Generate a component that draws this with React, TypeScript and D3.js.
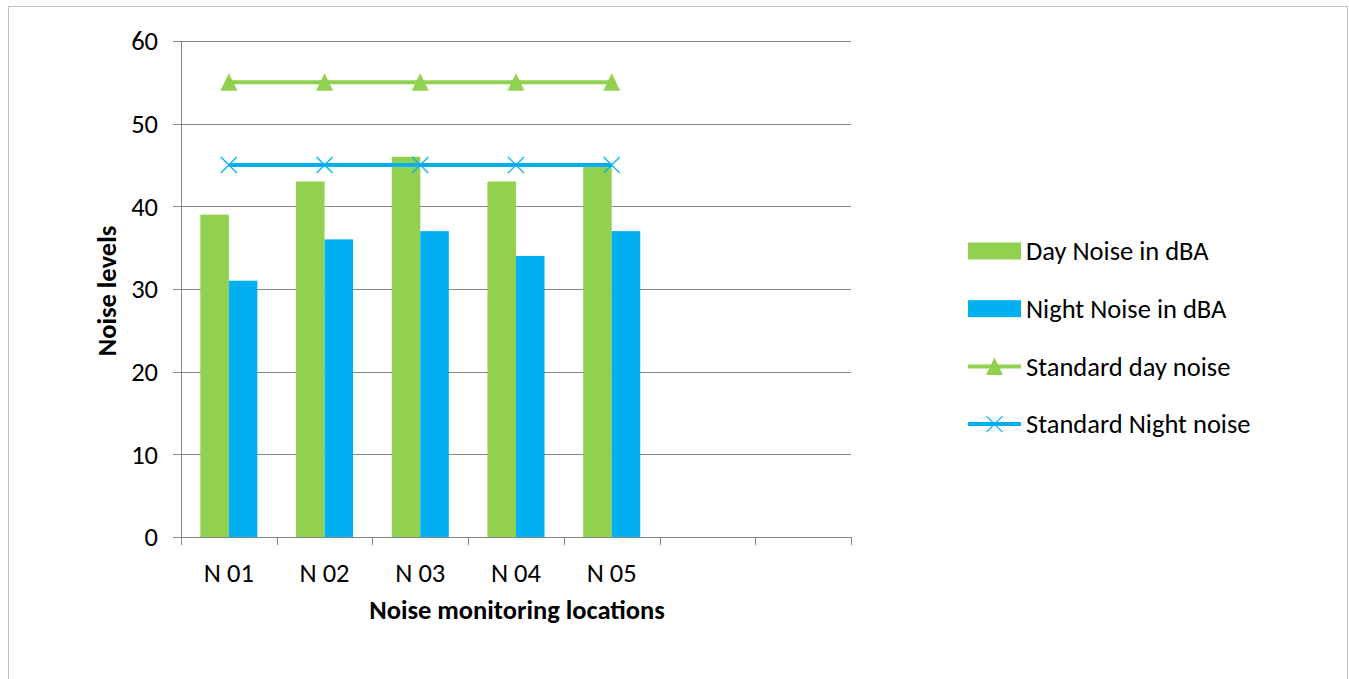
import React from "react";
import * as d3 from "d3";

const categories = ["N 01", "N 02", "N 03", "N 04", "N 05", "", " "];
const dayNoise = [39, 43, 46, 43, 45];
const nightNoise = [31, 36, 37, 34, 37];
const standardDay = [55, 55, 55, 55, 55];
const standardNight = [45, 45, 45, 45, 45];
const yTicks = [0, 10, 20, 30, 40, 50, 60];
const legendLabels = ["Day Noise in dBA", "Night Noise in dBA", "Standard day noise", "Standard Night noise"];

const GREEN = "#92D050";
const BLUE = "#00B0F0";
const AXIS = "#868686";
const FONT = "Carlito, Calibri, 'Open Sans', sans-serif";
const FS = 26.5;

export default function App() {
  const W = 1349, H = 679;
  const left = 181, right = 851, top = 41, bottom = 537;
  const x = d3.scaleBand<string>().domain(categories).range([left, right]).paddingInner(0).paddingOuter(0);
  const y = d3.scaleLinear().domain([0, 60]).range([bottom, top]);
  const bw = x.bandwidth();
  const barW = bw * 0.298;
  const cx = (i: number) => (x(categories[i]) as number) + bw / 2;
  const lineGen = d3.line<number>().x((_, i) => cx(i)).y((d) => y(d));
  const boundaries = categories.map((c) => x(c) as number).concat([right]);

  const tri = (px: number, py: number) =>
    `M${px},${py - 9} L${px + 8.5},${py + 8.5} L${px - 8.5},${py + 8.5} Z`;
  const cross = (px: number, py: number, s = 8) =>
    `M${px - s},${py - s} L${px + s},${py + s} M${px - s},${py + s} L${px + s},${py - s}`;

  const legX = 968, legW = 53, legY0 = 251, legStep = 57.7;

  return (
    <svg width={W} height={H} style={{ position: "absolute", left: 0, top: 0, fontFamily: FONT }}>
      <rect x={0} y={0} width={W} height={H} fill="#fff" />
      <rect x={8.5} y={6.5} width={1339} height={700} fill="#fff" stroke="#BFBFBF" strokeWidth={1} />
      {yTicks.map((t) => (
        <g key={t}>
          <line x1={left} x2={right} y1={Math.round(y(t)) + 0.5} y2={Math.round(y(t)) + 0.5} stroke={AXIS} strokeWidth={1} />
          <line x1={173} x2={left} y1={Math.round(y(t)) + 0.5} y2={Math.round(y(t)) + 0.5} stroke={AXIS} strokeWidth={1} />
          <text x={158} y={y(t)} dy="0.35em" textAnchor="end" fontSize={FS} fill="#000">{t}</text>
        </g>
      ))}
      <line x1={left + 0.5} x2={left + 0.5} y1={top} y2={bottom} stroke={AXIS} />
      {boundaries.map((b, i) => (
        <line key={i} x1={Math.round(b) + 0.5} x2={Math.round(b) + 0.5} y1={bottom} y2={bottom + 8} stroke={AXIS} />
      ))}
      {dayNoise.map((v, i) => (
        <rect key={"d" + i} x={cx(i) - barW} y={y(v)} width={barW} height={bottom - y(v)} fill={GREEN} />
      ))}
      {nightNoise.map((v, i) => (
        <rect key={"n" + i} x={cx(i)} y={y(v)} width={barW} height={bottom - y(v)} fill={BLUE} />
      ))}
      <path d={lineGen(standardDay) || ""} fill="none" stroke={GREEN} strokeWidth={4} />
      {standardDay.map((v, i) => (
        <path key={"t" + i} d={tri(cx(i), y(v))} fill={GREEN} />
      ))}
      <path d={lineGen(standardNight) || ""} fill="none" stroke={BLUE} strokeWidth={4} />
      {standardNight.map((v, i) => (
        <path key={"x" + i} d={cross(cx(i), y(v))} fill="none" stroke={BLUE} strokeWidth={1.2} />
      ))}
      {categories.map((c, i) => (
        <text key={"l" + i} x={cx(i)} y={582} textAnchor="middle" fontSize={FS} fill="#000">{c.trim()}</text>
      ))}
      <text x={517} y={619} textAnchor="middle" fontSize={FS} fontWeight="bold" fill="#000">Noise monitoring locations</text>
      <text transform={`translate(116,291) rotate(-90)`} textAnchor="middle" fontSize={FS} fontWeight="bold" fill="#000">Noise levels</text>
      {legendLabels.map((l, i) => {
        const ly = legY0 + i * legStep;
        return (
          <g key={l}>
            {i === 0 && <rect x={legX} y={ly - 8.5} width={legW} height={17} fill={GREEN} />}
            {i === 1 && <rect x={legX} y={ly - 8.5} width={legW} height={17} fill={BLUE} />}
            {i === 2 && (
              <g>
                <line x1={legX} x2={legX + legW} y1={ly} y2={ly} stroke={GREEN} strokeWidth={4} />
                <path d={tri(legX + legW / 2, ly)} fill={GREEN} />
              </g>
            )}
            {i === 3 && (
              <g>
                <line x1={legX} x2={legX + legW} y1={ly} y2={ly} stroke={BLUE} strokeWidth={4} />
                <path d={cross(legX + legW / 2, ly)} fill="none" stroke={BLUE} strokeWidth={1.2} />
              </g>
            )}
            <text x={1026} y={ly} dy="0.35em" fontSize={FS} fill="#000">{l}</text>
          </g>
        );
      })}
    </svg>
  );
}
